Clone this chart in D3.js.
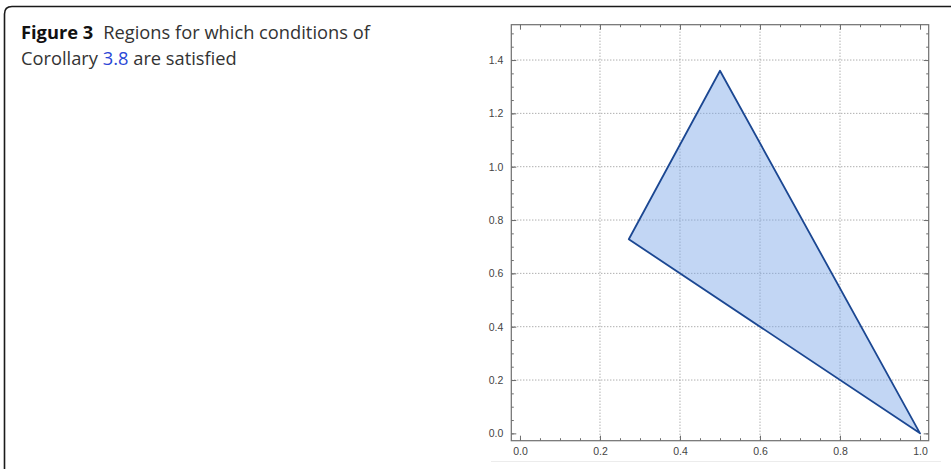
<!DOCTYPE html>
<html>
<head>
<meta charset="utf-8">
<script src="https://cdn.jsdelivr.net/npm/d3@7"></script>
<style>
  html, body { margin: 0; padding: 0; background: #fff; }
  svg { display: block; }
</style>
</head>
<body>
<svg id="chart" width="951" height="469"></svg>
<script>
// ---- data ----
const regionX = [0.272, 0.5, 1.0];
const regionY = [0.728, 1.36, 0.0];
const xDomain = [-0.0217, 1.0217];
const yDomain = [-0.0275, 1.5325];
const xMajorTicks = [0.0, 0.2, 0.4, 0.6, 0.8, 1.0];
const yMajorTicks = [0.0, 0.2, 0.4, 0.6, 0.8, 1.0, 1.2, 1.4];
const xGrid = [0.2, 0.4, 0.6, 0.8];
const yGrid = [0.2, 0.4, 0.6, 0.8, 1.0, 1.2, 1.4];
const captionBold = "Figure 3";
const captionLine1 = "Regions for which conditions of";
const captionLine2a = "Corollary ";
const captionLink = "3.8";
const captionLine2b = " are satisfied";

const svg = d3.select("#chart");

// figure box
svg.append("path")
  .attr("d", "M4.5,469 L4.5,14 Q4.5,6.5 12,6.5 L951,6.5")
  .attr("fill", "none").attr("stroke", "#1a1a1a").attr("stroke-width", 1.6);

// caption
const cap = svg.append("g").attr("font-family", "'Open Sans', 'Noto Sans', sans-serif")
  .attr("font-size", 18.3).attr("fill", "#333");
const t1 = cap.append("text").attr("x", 21).attr("y", 38.8);
t1.append("tspan").attr("font-weight", "bold").attr("fill", "#111").text(captionBold);
t1.append("tspan").attr("dx", 10).text(captionLine1);
const t2 = cap.append("text").attr("x", 21).attr("y", 65);
t2.append("tspan").text(captionLine2a);
t2.append("tspan").attr("fill", "#2b47d6").text(captionLink);
t2.append("tspan").text(captionLine2b);

// faint image bottom edge
svg.append("line").attr("x1", 491).attr("x2", 941).attr("y1", 461.5).attr("y2", 461.5)
  .attr("stroke", "#ececec").attr("stroke-width", 1);

// scales
const x = d3.scaleLinear().domain(xDomain).range([511.3, 928.7]);
const y = d3.scaleLinear().domain(yDomain).range([440.7, 24.7]);

// grid
const grid = svg.append("g").attr("stroke", "#8c8c8c").attr("stroke-width", 1)
  .attr("stroke-dasharray", "1,2");
grid.selectAll(".gx").data(xGrid).join("line")
  .attr("x1", d => x(d)).attr("x2", d => x(d))
  .attr("y1", y(yDomain[0])).attr("y2", y(yDomain[1]));
grid.selectAll(".gy").data(yGrid).join("line")
  .attr("y1", d => y(d)).attr("y2", d => y(d))
  .attr("x1", x(xDomain[0])).attr("x2", x(xDomain[1]));

// region
const pts = regionX.map((v, i) => [x(v), y(regionY[i])]);
const line = d3.line().curve(d3.curveLinearClosed);
svg.append("path").attr("d", line(pts))
  .attr("fill", "#7ea8e8").attr("fill-opacity", 0.47)
  .attr("stroke", "none");
svg.append("path").attr("d", line(pts))
  .attr("fill", "none").attr("stroke", "#1b4792").attr("stroke-width", 1.8)
  .attr("stroke-linejoin", "round");

// axes (frame) with inward ticks
const minorX = d3.range(0, 21).map(i => i * 0.05);
const minorY = d3.range(0, 31).map(i => i * 0.05);
const axisColor = "#6e6e6e";
function styleAxis(g) {
  g.select(".domain").remove();
  g.selectAll(".tick line").attr("stroke", axisColor);
  g.selectAll(".tick text").attr("fill", "#444").attr("font-size", 10.5)
    .attr("font-family", "'Liberation Sans', Arial, sans-serif");
}
const fmt = d3.format(".1f");
// bottom
svg.append("g").attr("transform", `translate(0,${y(yDomain[0])})`)
  .call(d3.axisBottom(x).tickValues(minorX).tickSize(-2.5).tickFormat(""))
  .call(styleAxis);
svg.append("g").attr("transform", `translate(0,${y(yDomain[0])})`)
  .call(d3.axisBottom(x).tickValues(xMajorTicks).tickSize(-5).tickPadding(7).tickFormat(fmt))
  .call(styleAxis);
// top
svg.append("g").attr("transform", `translate(0,${y(yDomain[1])})`)
  .call(d3.axisTop(x).tickValues(minorX).tickSize(-2.5).tickFormat(""))
  .call(styleAxis);
svg.append("g").attr("transform", `translate(0,${y(yDomain[1])})`)
  .call(d3.axisTop(x).tickValues(xMajorTicks).tickSize(-5).tickFormat(""))
  .call(styleAxis);
// left
svg.append("g").attr("transform", `translate(${x(xDomain[0])},0)`)
  .call(d3.axisLeft(y).tickValues(minorY).tickSize(-2.5).tickFormat(""))
  .call(styleAxis);
svg.append("g").attr("transform", `translate(${x(xDomain[0])},0)`)
  .call(d3.axisLeft(y).tickValues(yMajorTicks).tickSize(-5).tickPadding(8).tickFormat(fmt))
  .call(styleAxis);
// right
svg.append("g").attr("transform", `translate(${x(xDomain[1])},0)`)
  .call(d3.axisRight(y).tickValues(minorY).tickSize(-2.5).tickFormat(""))
  .call(styleAxis);
svg.append("g").attr("transform", `translate(${x(xDomain[1])},0)`)
  .call(d3.axisRight(y).tickValues(yMajorTicks).tickSize(-5).tickFormat(""))
  .call(styleAxis);

// frame
svg.append("rect")
  .attr("x", x(xDomain[0])).attr("y", y(yDomain[1]))
  .attr("width", x(xDomain[1]) - x(xDomain[0]))
  .attr("height", y(yDomain[0]) - y(yDomain[1]))
  .attr("fill", "none").attr("stroke", axisColor).attr("stroke-width", 1.2);
</script>
</body>
</html>
